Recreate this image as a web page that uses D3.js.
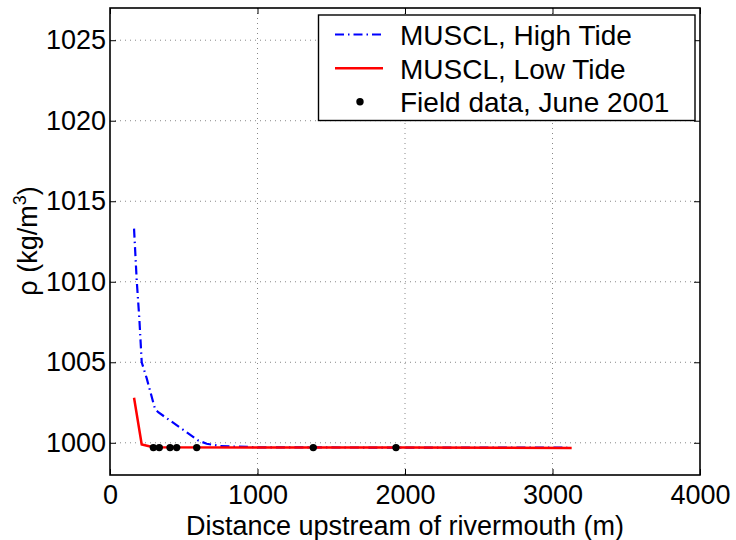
<!DOCTYPE html>
<html>
<head>
<meta charset="utf-8">
<script src="https://cdn.jsdelivr.net/npm/d3@7"></script>
<style>
  body { margin: 0; background: #fff; }
  text { font-family: "Liberation Sans", Arial, Helvetica, sans-serif; }
</style>
</head>
<body>
<svg id="chart" width="736" height="540"></svg>
<script>
// values
const highTideX = [163, 181, 199, 215, 249, 305, 327, 599, 656, 746, 1000, 2000, 3100];
const highTideRho = [1013.3, 1010.1, 1007.7, 1005.0, 1004.0, 1002.1, 1001.9, 1000.14, 999.94, 999.8, 999.72, 999.7, 999.7];
const lowTideX = [163, 215, 294, 1000, 2000, 3130];
const lowTideRho = [1002.8, 999.9, 999.72, 999.7, 999.7, 999.68];
const fieldX = [294, 334, 407, 452, 588, 1378, 1939];
const fieldRho = [999.7, 999.7, 999.7, 999.7, 999.7, 999.7, 999.7];
const xTicks = [0, 1000, 2000, 3000, 4000];
const yTicks = [1000, 1005, 1010, 1015, 1020, 1025];
const legendLabels = ['MUSCL, High Tide', 'MUSCL, Low Tide', 'Field data, June 2001'];

const svg = d3.select('#chart');
const plotL = 110, plotR = 700, plotT = 8, plotB = 475;
const fs = 27;

const x = d3.scaleLinear().domain([0, 4000]).range([plotL, plotR]);
const y = d3.scaleLinear().domain([998, 1027]).range([plotB, plotT]);

// grid
const grid = svg.append('g').attr('stroke', '#888').attr('stroke-width', 1)
  .attr('stroke-dasharray', '1,4');
grid.selectAll('.gx').data(xTicks.slice(1, -1)).enter().append('line')
  .attr('x1', d => x(d)).attr('x2', d => x(d))
  .attr('y1', plotT).attr('y2', plotB);
grid.selectAll('.gy').data(yTicks).enter().append('line')
  .attr('x1', plotL).attr('x2', plotR)
  .attr('y1', d => y(d)).attr('y2', d => y(d));

// axes with inward ticks on every side
const tick = 6;
svg.append('g').attr('transform', `translate(0,${plotB})`)
  .call(d3.axisBottom(x).tickValues(xTicks).tickSize(-tick).tickPadding(10).tickFormat(d3.format('d')));
svg.append('g').attr('transform', `translate(0,${plotT})`)
  .call(d3.axisTop(x).tickValues(xTicks).tickSize(-tick).tickFormat(''));
svg.append('g').attr('transform', `translate(${plotL},0)`)
  .call(d3.axisLeft(y).tickValues(yTicks).tickSize(-tick).tickPadding(4).tickFormat(d3.format('d')));
svg.append('g').attr('transform', `translate(${plotR},0)`)
  .call(d3.axisRight(y).tickValues(yTicks).tickSize(-tick).tickFormat(''));
svg.selectAll('.domain').remove();
svg.selectAll('.tick line').attr('stroke', '#000');
svg.selectAll('.tick text').attr('font-size', fs).attr('fill', '#000')
  .style('font-family', '"Liberation Sans", Arial, sans-serif');

svg.append('rect').attr('x', plotL).attr('y', plotT)
  .attr('width', plotR - plotL).attr('height', plotB - plotT)
  .attr('fill', 'none').attr('stroke', '#000').attr('stroke-width', 1.6);

// data
const line = d3.line().x(d => x(d[0])).y(d => y(d[1]));
svg.append('path').datum(d3.zip(highTideX, highTideRho))
  .attr('d', line).attr('fill', 'none').attr('stroke', '#0000ff')
  .attr('stroke-width', 2.2).attr('stroke-dasharray', '9,4,1.5,4');
svg.append('path').datum(d3.zip(lowTideX, lowTideRho))
  .attr('d', line).attr('fill', 'none').attr('stroke', '#ff0000')
  .attr('stroke-width', 2.5);
svg.selectAll('.field').data(d3.zip(fieldX, fieldRho)).enter().append('circle')
  .attr('cx', d => x(d[0])).attr('cy', d => y(d[1])).attr('r', 3.7).attr('fill', '#000');

// axis labels
svg.append('text').attr('x', (plotL + plotR) / 2).attr('y', 534.5)
  .attr('text-anchor', 'middle').attr('font-size', fs)
  .text('Distance upstream of rivermouth (m)');
const yl = svg.append('text').attr('transform', 'translate(37,241) rotate(-90)')
  .attr('text-anchor', 'middle').attr('font-size', fs);
yl.append('tspan').text('ρ (kg/m');
yl.append('tspan').attr('font-size', 18).attr('dy', -11).text('3');
yl.append('tspan').attr('dy', 11).text(')');

// legend
const lg = svg.append('g');
lg.append('rect').attr('x', 318.5).attr('y', 15).attr('width', 376.5).attr('height', 105.5)
  .attr('fill', '#fff').attr('stroke', '#000').attr('stroke-width', 1.4);
const rowY = [34.5, 68.3, 101.7];
lg.append('line').attr('x1', 335).attr('x2', 383).attr('y1', rowY[0]).attr('y2', rowY[0])
  .attr('stroke', '#0000ff').attr('stroke-width', 2.2).attr('stroke-dasharray', '9,4,1.5,4');
lg.append('line').attr('x1', 335).attr('x2', 383).attr('y1', rowY[1]).attr('y2', rowY[1])
  .attr('stroke', '#ff0000').attr('stroke-width', 2.5);
lg.append('circle').attr('cx', 360).attr('cy', rowY[2]).attr('r', 3.7).attr('fill', '#000');
lg.selectAll('.lt').data(legendLabels).enter().append('text')
  .attr('x', 400).attr('y', (d, i) => rowY[i] + 10.5).attr('font-size', 28).text(d => d);
</script>
</body>
</html>
